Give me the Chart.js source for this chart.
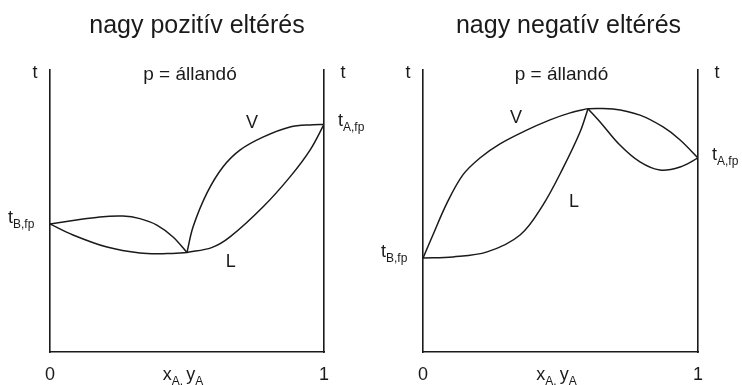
<!DOCTYPE html>
<html>
<head>
<meta charset="utf-8">
<script src="https://cdn.jsdelivr.net/npm/chart.js@4/dist/chart.umd.min.js"></script>
<style>
  body { margin: 0; background: #fff; }
  .wrap { position: relative; width: 742px; height: 385px; }
  .wrap canvas { position: absolute; top: 0; }
</style>
</head>
<body>
<div class="wrap">
  <canvas id="posChart" width="371" height="385" style="left:0"></canvas>
  <canvas id="negChart" width="371" height="385" style="left:371px"></canvas>
</div>
<script>
// composition axis: x_A / y_A from 0 to 1, temperature t in arbitrary units 0..100
const xTickValues = [0, 1];
const xTickLabels = ['0', '1'];

// nagy pozitív eltérés (minimum boiling azeotrope at x = 0.5)
const posBoilB = 45.4;
const posBoilA = 80.7;
const posVapLeftX = [0, 0.084, 0.182, 0.266, 0.328, 0.39, 0.449, 0.5];
const posVapLeftY = [45.4, 46.6, 47.9, 48.2, 47.3, 45.0, 40.8, 35.3];
const posLiqLeftX = [0, 0.084, 0.208, 0.328, 0.427, 0.5];
const posLiqLeftY = [45.4, 41.5, 37.2, 35.1, 34.9, 35.3];
const posVapRightX = [0.5, 0.522, 0.573, 0.631, 0.693, 0.777, 0.876, 0.96, 1];
const posVapRightY = [35.3, 44.3, 56.4, 65.6, 71.6, 76.2, 79.8, 80.6, 80.7];
const posLiqRightX = [0.5, 0.59, 0.657, 0.777, 0.876, 0.949, 1];
const posLiqRightY = [35.3, 37.0, 40.8, 51.4, 62.1, 71.6, 80.7];

// nagy negatív eltérés (maximum boiling azeotrope at x = 0.6)
const negBoilB = 33.3;
const negBoilA = 68.8;
const negVapLeftX = [0, 0.036, 0.087, 0.145, 0.207, 0.28, 0.371, 0.462, 0.535, 0.6];
const negVapLeftY = [33.3, 41.5, 52.8, 62.8, 68.8, 73.8, 78.4, 82.3, 84.8, 86.3];
const negLiqLeftX = [0, 0.109, 0.233, 0.353, 0.436, 0.509, 0.571, 0.6];
const negLiqLeftY = [33.3, 33.7, 35.5, 41.5, 52.1, 65.2, 78.0, 86.3];
const negVapRightX = [0.6, 0.691, 0.789, 0.873, 0.935, 1];
const negVapRightY = [86.3, 86.2, 84.0, 79.8, 75.2, 68.8];
const negLiqRightX = [0.6, 0.644, 0.716, 0.789, 0.862, 0.935, 1];
const negLiqRightY = [86.3, 81.6, 73.4, 67.4, 64.5, 65.6, 68.8];

const INK = '#1a1a1a';
const FONT = 'Arial, "Liberation Sans", sans-serif';

function toPoints(xs, ys) {
  return xs.map((x, i) => ({ x: x, y: ys[i] }));
}

function curve(xs, ys) {
  return {
    data: toPoints(xs, ys),
    showLine: true,
    borderColor: INK,
    borderWidth: 1.5,
    pointRadius: 0,
    tension: 0.35,
    fill: false
  };
}

// text with a subscript, e.g. t_B,fp
function drawSub(ctx, main, sub, x, y, size) {
  ctx.textAlign = 'left';
  ctx.font = size + 'px ' + FONT;
  ctx.fillText(main, x, y);
  const w = ctx.measureText(main).width;
  ctx.font = Math.round(size * 0.66) + 'px ' + FONT;
  ctx.fillText(sub, x + w, y + 5);
  return x + w + ctx.measureText(sub).width;
}

function textPlugin(panel) {
  return {
    id: 'panelText',
    afterDraw(chart) {
      const { ctx, chartArea: a } = chart;
      const xs = chart.scales.x;
      const ys = chart.scales.y;
      const mid = (a.left + a.right) / 2;
      ctx.save();
      ctx.fillStyle = INK;
      ctx.textBaseline = 'alphabetic';

      // title
      ctx.textAlign = 'center';
      ctx.font = '25px ' + FONT;
      ctx.fillText(panel.title, mid + panel.titleShift, 33);

      ctx.font = '19px ' + FONT;
      ctx.fillText('p = állandó', mid + panel.titleShift - 7, 80);
      ctx.font = '18px ' + FONT;
      ctx.fillText('t', a.left - 15, 78);
      ctx.fillText('t', a.right + 19, 78);

      // curve labels
      ctx.fillText('V', xs.getPixelForValue(panel.vLabel[0]), ys.getPixelForValue(panel.vLabel[1]));
      ctx.fillText('L', xs.getPixelForValue(panel.lLabel[0]), ys.getPixelForValue(panel.lLabel[1]));

      // x axis ticks
      xTickValues.forEach((v, i) => {
        ctx.fillText(xTickLabels[i], xs.getPixelForValue(v), a.bottom + 28);
      });

      // x_A, y_A
      ctx.font = '18px ' + FONT;
      const xw = ctx.measureText('x').width;
      const yw = ctx.measureText('y').width;
      ctx.font = '12px ' + FONT;
      const aw = ctx.measureText('A, ').width;
      const bw = ctx.measureText('A').width;
      let px = mid - 4 - (xw + aw + yw + bw) / 2;
      px = drawSub(ctx, 'x', 'A, ', px, a.bottom + 28, 18);
      drawSub(ctx, 'y', 'A', px, a.bottom + 28, 18);

      // pure component boiling points
      drawSub(ctx, 't', 'B,fp', a.left - 42, ys.getPixelForValue(panel.boilB) - 1, 18);
      drawSub(ctx, 't', 'A,fp', a.right + 14, ys.getPixelForValue(panel.boilA) + 2, 18);
      ctx.restore();
    }
  };
}

function makeChart(id, panel) {
  const axisLine = { display: true, color: INK, width: 1.6 };
  const noGrid = { display: false, drawTicks: false };
  return new Chart(document.getElementById(id), {
    type: 'scatter',
    data: { datasets: panel.curves.map(c => curve(c[0], c[1])) },
    options: {
      responsive: false,
      animation: false,
      layout: { padding: panel.padding, autoPadding: false },
      plugins: { legend: { display: false }, tooltip: { enabled: false }, title: { display: false } },
      scales: {
        x: { type: 'linear', min: 0, max: 1, grid: noGrid, ticks: { display: false }, border: axisLine },
        y: { type: 'linear', min: 0, max: 100, position: 'left', grid: noGrid, ticks: { display: false }, border: axisLine },
        y2: { type: 'linear', min: 0, max: 100, position: 'right', grid: noGrid, ticks: { display: false }, border: axisLine }
      }
    },
    plugins: [textPlugin(panel)]
  });
}

makeChart('posChart', {
  title: 'nagy pozitív eltérés',
  titleShift: 10,
  padding: { left: 50, right: 47, top: 70, bottom: 33 },
  boilA: posBoilA,
  boilB: posBoilB,
  vLabel: [0.737, 79.4],
  lLabel: [0.66, 30.1],
  curves: [
    [posVapLeftX, posVapLeftY],
    [posLiqLeftX, posLiqLeftY],
    [posVapRightX, posVapRightY],
    [posLiqRightX, posLiqRightY]
  ]
});

makeChart('negChart', {
  title: 'nagy negatív eltérés',
  titleShift: 8,
  padding: { left: 52, right: 44, top: 70, bottom: 33 },
  boilA: negBoilA,
  boilB: negBoilB,
  vLabel: [0.338, 81.2],
  lLabel: [0.549, 51.4],
  curves: [
    [negVapLeftX, negVapLeftY],
    [negLiqLeftX, negLiqLeftY],
    [negVapRightX, negVapRightY],
    [negLiqRightX, negLiqRightY]
  ]
});
</script>
</body>
</html>
